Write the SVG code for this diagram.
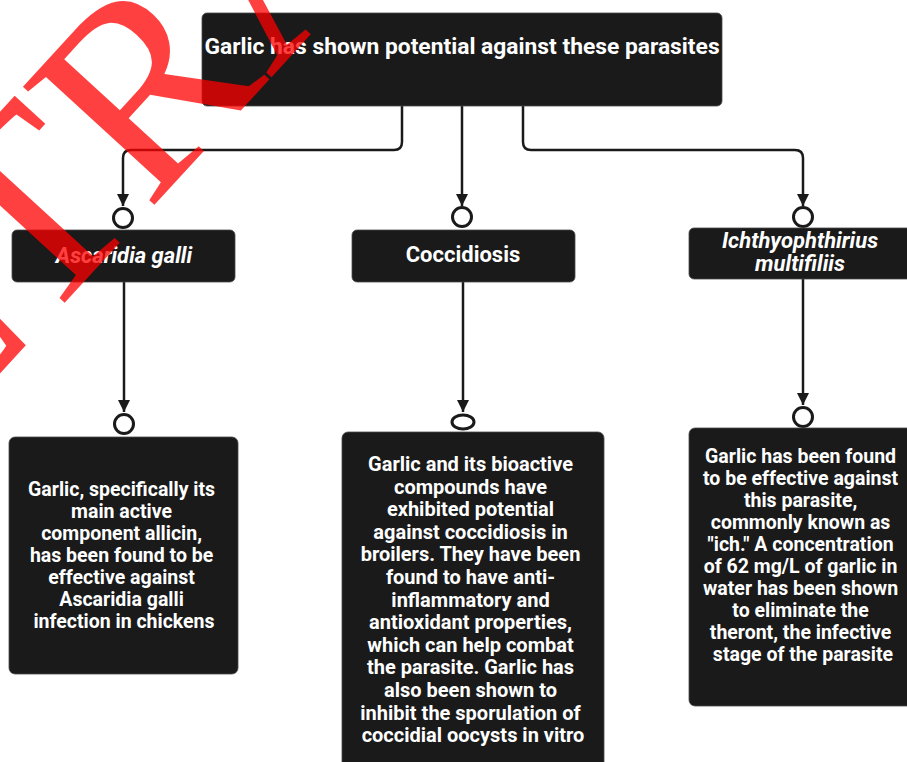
<svg xmlns="http://www.w3.org/2000/svg" width="907" height="762" viewBox="0 0 907 762">
<defs>
<style>
.box{fill:#1a1a1a;stroke:#4a4a4a;stroke-width:0.8}
.t{font-family:Roboto,"Liberation Sans",sans-serif;font-weight:700;fill:#ffffff;text-anchor:middle}
.title{font-size:22.8px}
.lab{font-size:22px}
.it{font-style:italic}
.body{font-size:19.5px}
.body2{font-size:20px}
.conn{fill:none;stroke:#1a1a1a;stroke-width:2.5}
.dot{fill:#ffffff;stroke:#1a1a1a;stroke-width:3}
.wm{font-family:"Liberation Serif","Times New Roman",serif;font-size:270px;fill:#ff0000;fill-opacity:0.75}
</style>
<marker id="arr" viewBox="0 0 10 10" refX="10" refY="5" markerUnits="userSpaceOnUse" markerWidth="13" markerHeight="12" orient="auto">
<path d="M0,0 L10,5 L0,10 z" fill="#1a1a1a"/>
</marker>
</defs>
<rect width="907" height="762" fill="#ffffff"/>

<g id="connectors">
<path class="conn" marker-end="url(#arr)" d="M402,106 V142 Q402,150 394,150 H131 Q123,150 123,158 V206"/>
<path class="conn" marker-end="url(#arr)" d="M462,106 V206"/>
<path class="conn" marker-end="url(#arr)" d="M523,106 V142 Q523,150 531,150 H795 Q803,150 803,158 V206"/>
<path class="conn" marker-end="url(#arr)" d="M124,282 V412"/>
<path class="conn" marker-end="url(#arr)" d="M463,282 V412"/>
<path class="conn" marker-end="url(#arr)" d="M803,279 V405"/>
<circle class="dot" cx="123" cy="218" r="9.5"/>
<circle class="dot" cx="462" cy="217" r="9.5"/>
<circle class="dot" cx="803" cy="217" r="9.5"/>
<circle class="dot" cx="124" cy="424" r="9.5"/>
<ellipse class="dot" cx="463" cy="422" rx="11" ry="7"/>
<circle class="dot" cx="803" cy="417" r="9.5"/>
</g>

<g id="n-top">
<rect class="box" x="202" y="13" width="520" height="93" rx="5"/>
<text class="t title" x="462" y="54">Garlic has shown potential against these parasites</text>
</g>

<g id="n-ascaridia">
<rect class="box" x="12" y="230" width="223" height="52" rx="5"/>
<text class="t lab it" x="124" y="263">Ascaridia galli</text>
</g>

<g id="n-coccidiosis">
<rect class="box" x="352" y="230" width="223" height="52" rx="5"/>
<text class="t lab" x="463" y="262">Coccidiosis</text>
</g>

<g id="n-ich">
<rect class="box" x="689" y="228" width="230" height="51" rx="5"/>
<text class="t lab it" x="800" y="248">Ichthyophthirius</text>
<text class="t lab it" x="800" y="271">multifiliis</text>
</g>

<g id="n-ascaridia-desc">
<rect class="box" x="9" y="437" width="229" height="237" rx="6"/>
<text class="t body" x="124" y="496">
<tspan x="124" dy="0">Garlic, specifically its</tspan>
<tspan x="124" dy="22">main active</tspan>
<tspan x="124" dy="22">component allicin,</tspan>
<tspan x="124" dy="22">has been found to be</tspan>
<tspan x="124" dy="22">effective against</tspan>
<tspan x="124" dy="22">Ascaridia galli</tspan>
<tspan x="124" dy="22">infection in chickens</tspan>
</text>
</g>

<g id="n-coccidiosis-desc">
<rect class="box" x="342" y="432" width="262" height="345" rx="6"/>
<text class="t body2" x="473" y="471">
<tspan x="473" dy="0">Garlic and its bioactive</tspan>
<tspan x="473" dy="22.6">compounds have</tspan>
<tspan x="473" dy="22.6">exhibited potential</tspan>
<tspan x="473" dy="22.6">against coccidiosis in</tspan>
<tspan x="473" dy="22.6">broilers. They have been</tspan>
<tspan x="473" dy="22.6">found to have anti-</tspan>
<tspan x="473" dy="22.6">inflammatory and</tspan>
<tspan x="473" dy="22.6">antioxidant properties,</tspan>
<tspan x="473" dy="22.6">which can help combat</tspan>
<tspan x="473" dy="22.6">the parasite. Garlic has</tspan>
<tspan x="473" dy="22.6">also been shown to</tspan>
<tspan x="473" dy="22.6">inhibit the sporulation of</tspan>
<tspan x="473" dy="22.6">coccidial oocysts in vitro</tspan>
</text>
</g>

<g id="n-ich-desc">
<rect class="box" x="689" y="428" width="230" height="278" rx="6"/>
<text class="t body" x="803" y="463">
<tspan x="803" dy="0">Garlic has been found</tspan>
<tspan x="803" dy="22">to be effective against</tspan>
<tspan x="803" dy="22">this parasite,</tspan>
<tspan x="803" dy="22">commonly known as</tspan>
<tspan x="803" dy="22">"ich." A concentration</tspan>
<tspan x="803" dy="22">of 62 mg/L of garlic in</tspan>
<tspan x="803" dy="22">water has been shown</tspan>
<tspan x="803" dy="22">to eliminate the</tspan>
<tspan x="803" dy="22">theront, the infective</tspan>
<tspan x="803" dy="22">stage of the parasite</tspan>
</text>
</g>

<g id="watermark">
<text class="wm" transform="translate(92,273) rotate(-47.5)" x="-427" y="0">RETRACTED</text>
</g>
</svg>
